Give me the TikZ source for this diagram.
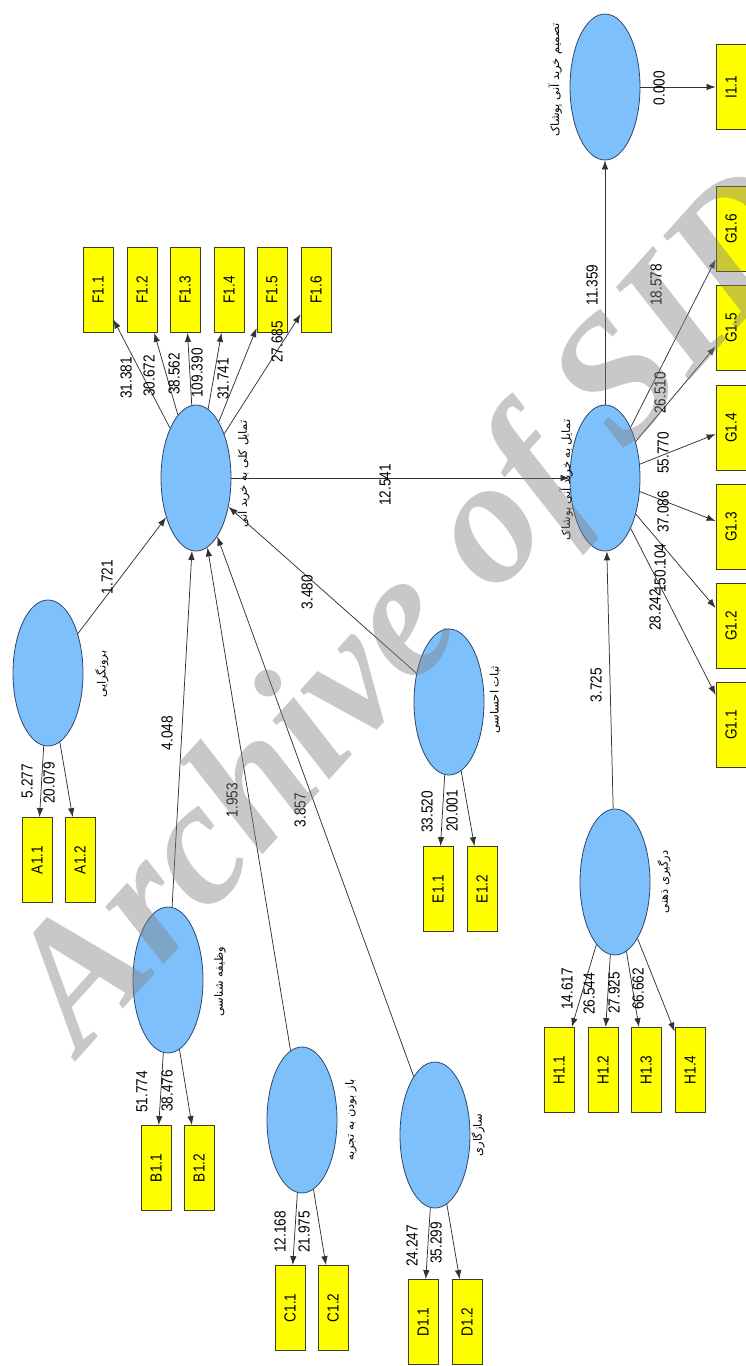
\documentclass[tikz,border=0pt]{standalone}
\usepackage{fontspec}
\setmainfont{Liberation Sans}
\newfontfamily\numfont[FakeStretch=0.85]{Liberation Sans}
\newfontfamily\fafont[Script=Arabic]{DejaVu Sans}
\newfontfamily\wmfont{Liberation Serif}
\TeXXeTstate=1
\usetikzlibrary{shapes.geometric,arrows.meta}
\definecolor{lvblue}{RGB}{125,192,252}
\definecolor{lvedge}{RGB}{45,70,105}
\definecolor{mvyellow}{RGB}{255,255,0}
\definecolor{mvedge}{RGB}{60,60,30}
\definecolor{lnk}{RGB}{50,50,50}

\begin{document}
\begin{tikzpicture}[x=1pt,y=-1pt,
  lv/.style={ellipse, draw=lvedge, fill=lvblue, line width=0.8pt, minimum width=70pt, minimum height=146pt, inner sep=0pt},
  mv/.style={rectangle, draw=mvedge, fill=mvyellow, line width=0.8pt, rotate=90, minimum width=85pt, minimum height=30pt, inner sep=0pt, font=\numfont\fontsize{16}{16}\selectfont},
  lvname/.style={rotate=90, inner sep=0pt, font=\fafont\fontsize{11.5}{11.5}\selectfont},
  wt/.style={rotate=90, inner sep=0pt, font=\numfont\fontsize{16}{16}\selectfont},
  pth/.style={draw=lnk, line width=0.75pt, -{Latex[length=9pt,width=6.5pt]}}]
\useasboundingbox (0,0) rectangle (746,1366);

% latent variables
\node[lv] (A) at (48,673) {};
\node[lv] (B) at (168,980) {};
\node[lv] (C) at (302,1120) {};
\node[lv] (D) at (435,1135) {};
\node[lv] (E) at (449,702) {};
\node[lv] (F) at (196,478) {};
\node[lv] (G) at (605,478) {};
\node[lv] (H) at (615,882) {};
\node[lv] (I) at (605,87) {};

\node[lvname] (A-name) at (102,674) {\beginR برونگرایی\endR};
\node[lvname] (B-name) at (220,982) {\beginR وظیفه شناسی\endR};
\node[lvname] (C-name) at (351,1120) {\beginR باز بودن به تجربه\endR};
\node[lvname] (D-name) at (478,1135) {\beginR سازگاری\endR};
\node[lvname] (E-name) at (495,700) {\beginR ثبات احساسی\endR};
\node[lvname] (F-name) at (243,474) {\beginR تمایل کلی به خرید آنی\endR};
\node[lvname] (G-name) at (566,480) {\beginR تمایل به خرید آنی پوشاک\endR};
\node[lvname] (H-name) at (664,882) {\beginR درگیری ذهنی\endR};
\node[lvname] (I-name) at (555,80) {\beginR تصمیم خرید آنی پوشاک\endR};

% indicators
\node[mv] (A11) at (37,860) {A1.1};
\node[mv] (A12) at (80,860) {A1.2};
\node[mv] (B11) at (156,1168) {B1.1};
\node[mv] (B12) at (199,1168) {B1.2};
\node[mv] (C11) at (290,1308) {C1.1};
\node[mv] (C12) at (333,1308) {C1.2};
\node[mv] (D11) at (423,1322) {D1.1};
\node[mv] (D12) at (467,1322) {D1.2};
\node[mv] (E11) at (438,889) {E1.1};
\node[mv] (E12) at (482,889) {E1.2};
\node[mv] (F11) at (98,290) {F1.1};
\node[mv] (F12) at (142,290) {F1.2};
\node[mv] (F13) at (185,290) {F1.3};
\node[mv] (F14) at (229,290) {F1.4};
\node[mv] (F15) at (272,290) {F1.5};
\node[mv] (F16) at (316,290) {F1.6};
\node[mv] (G11) at (731,725) {G1.1};
\node[mv] (G12) at (731,626) {G1.2};
\node[mv] (G13) at (731,527) {G1.3};
\node[mv] (G14) at (731,428) {G1.4};
\node[mv] (G15) at (731,328) {G1.5};
\node[mv] (G16) at (731,229) {G1.6};
\node[mv] (H11) at (559,1070) {H1.1};
\node[mv] (H12) at (603,1070) {H1.2};
\node[mv] (H13) at (646,1070) {H1.3};
\node[mv] (H14) at (690,1070) {H1.4};
\node[mv] (I11) at (731,87) {I1.1};

% loadings
\draw[pth] (A) -- (A11);
\draw[pth] (A) -- (A12);
\draw[pth] (B) -- (B11);
\draw[pth] (B) -- (B12);
\draw[pth] (C) -- (C11);
\draw[pth] (C) -- (C12);
\draw[pth] (D) -- (D11);
\draw[pth] (D) -- (D12);
\draw[pth] (E) -- (E11);
\draw[pth] (E) -- (E12);
\draw[pth] (F) -- (F11);
\draw[pth] (F) -- (F12);
\draw[pth] (F) -- (F13);
\draw[pth] (F) -- (F14);
\draw[pth] (F) -- (F15);
\draw[pth] (F) -- (F16);
\draw[pth] (G) -- (G11);
\draw[pth] (G) -- (G12);
\draw[pth] (G) -- (G13);
\draw[pth] (G) -- (G14);
\draw[pth] (G) -- (G15);
\draw[pth] (G) -- (G16);
\draw[pth] (H) -- (H11);
\draw[pth] (H) -- (H12);
\draw[pth] (H) -- (H13);
\draw[pth] (H) -- (H14);
\draw[pth] (I) -- (I11);

\node[wt] (w-A11) at (27,781) {5.277};
\node[wt] (w-A12) at (49,783) {20.079};
\node[wt] (w-B11) at (142,1092) {51.774};
\node[wt] (w-B12) at (167,1091) {38.476};
\node[wt] (w-C11) at (280,1232) {12.168};
\node[wt] (w-C12) at (304,1232) {21.975};
\node[wt] (w-D11) at (412,1246) {24.247};
\node[wt] (w-D12) at (436,1243) {35.299};
\node[wt] (w-E11) at (427,812) {33.520};
\node[wt] (w-E12) at (452,811) {20.001};
\node[wt] (w-F11) at (126,378) {31.381};
\node[wt] (w-F12) at (149,376) {30.672};
\node[wt] (w-F13) at (174,374) {38.562};
\node[wt] (w-F14) at (197,373) {109.390};
\node[wt] (w-F15) at (223,379) {31.741};
\node[wt] (w-F16) at (277,342) {27.685};
\node[wt] (w-G11) at (655,610) {28.242};
\node[wt] (w-G12) at (660,568) {150.104};
\node[wt] (w-G13) at (663,512) {37.086};
\node[wt] (w-G14) at (663,453) {55.770};
\node[wt] (w-G15) at (660,393) {26.510};
\node[wt] (w-G16) at (656,285) {18.578};
\node[wt] (w-H11) at (567,989) {14.617};
\node[wt] (w-H12) at (589,994) {26.544};
\node[wt] (w-H13) at (614,993) {27.925};
\node[wt] (w-H14) at (638,989) {66.662};
\node[wt] (w-I11) at (659,88) {0.000};

% structural paths
\draw[pth] (A) -- (F);
\draw[pth] (B) -- (F);
\draw[pth] (C) -- (F);
\draw[pth] (D) -- (F);
\draw[pth] (E) -- (F);
\draw[pth] (F) -- (G);
\draw[pth] (H) -- (G);
\draw[pth] (G) -- (I);

\node[wt] (w-AF) at (107,577) {1.721};
\node[wt] (w-BF) at (167,733) {4.048};
\node[wt] (w-CF) at (232,800) {1.953};
\node[wt] (w-DF) at (300,810) {3.857};
\node[wt] (w-EF) at (307,592) {3.480};
\node[wt] (w-FG) at (385,485) {12.541};
\node[wt] (w-HG) at (596,685) {3.725};
\node[wt] (w-GI) at (592,285) {11.359};

\node[rotate=48, text=gray, opacity=0.43, font=\wmfont\bfseries\itshape\fontsize{178}{178}\selectfont] (sid) at (420,615) {Archive of SID};
\end{tikzpicture}
\end{document}
